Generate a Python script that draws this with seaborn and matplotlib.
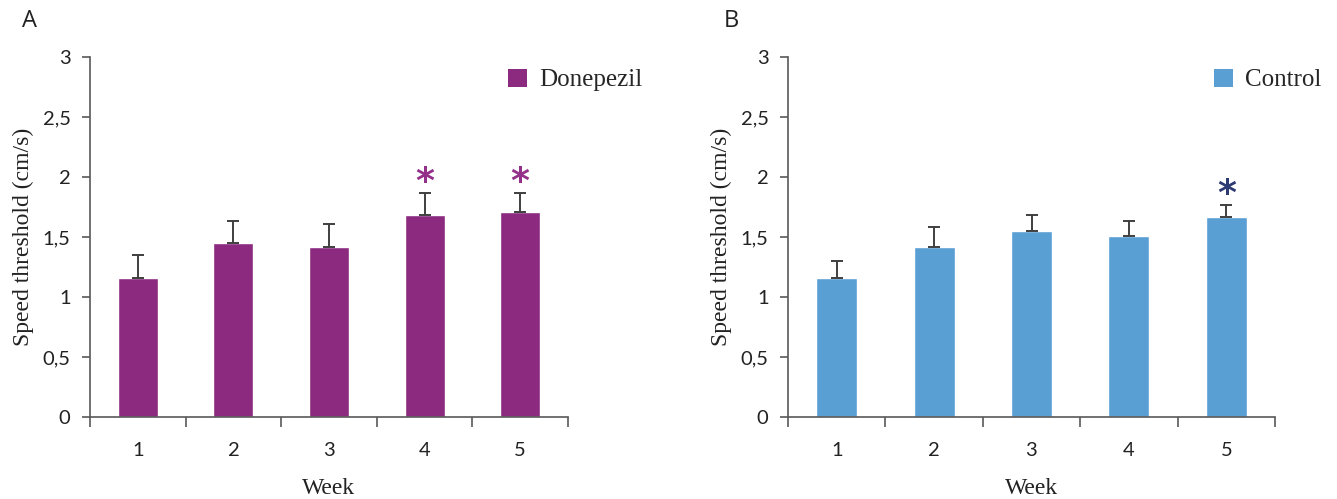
import numpy as np
import pandas as pd
import matplotlib
matplotlib.use("Agg")
import matplotlib.pyplot as plt
import seaborn as sns
from matplotlib.patches import Patch

# ---------------- data ----------------
weeks = ["1", "2", "3", "4", "5"]
donepezil_mean = [1.16, 1.45, 1.42, 1.68, 1.71]
donepezil_sem = [0.19, 0.18, 0.19, 0.19, 0.16]
donepezil_sig = [False, False, False, True, True]
control_mean = [1.16, 1.42, 1.55, 1.51, 1.67]
control_sem = [0.14, 0.16, 0.13, 0.12, 0.10]
control_sig = [False, False, False, False, True]
yticks = [0, 0.5, 1, 1.5, 2, 2.5, 3]
ytick_labels = ["0", "0,5", "1", "1,5", "2", "2,5", "3"]
panel_letters = ["A", "B"]
series_names = ["Donepezil", "Control"]
x_label = "Week"
y_label = "Speed threshold (cm/s)"

# ---------------- style ----------------
sns.set_theme(style="ticks")
plt.rcParams["font.family"] = ["Lato", "DejaVu Sans"]
SERIF = "Liberation Serif"
SPINE = "#595959"
ERR = "#3f3f3f"

panels = [
    dict(mean=donepezil_mean, sem=donepezil_sem, sig=donepezil_sig,
         name=series_names[0], color="#8B2A7E", star="#93308A",
         rect=[90 / 1337, 82 / 499, 478 / 1337, 360 / 499],
         letter=panel_letters[0], letter_x=22 / 1337),
    dict(mean=control_mean, sem=control_sem, sig=control_sig,
         name=series_names[1], color="#5A9FD4", star="#2E3A72",
         rect=[788 / 1337, 82 / 499, 487 / 1337, 360 / 499],
         letter=panel_letters[1], letter_x=724 / 1337),
]

fig = plt.figure(figsize=(13.37, 4.99), dpi=100)
fig.patch.set_facecolor("white")

for p in panels:
    ax = fig.add_axes(p["rect"])
    ax.set_facecolor("white")
    df = pd.DataFrame({"week": weeks, "value": p["mean"]})
    sns.barplot(data=df, x="week", y="value", color=p["color"], saturation=1,
                width=0.42, errorbar=None, ax=ax, zorder=2)
    xpos = np.arange(len(weeks))
    ax.errorbar(xpos, p["mean"], yerr=[np.zeros(len(weeks)), p["sem"]],
                fmt="none", ecolor=ERR, elinewidth=1.4, capsize=4.5,
                capthick=1.4, zorder=3)
    for xi, m, s, sig in zip(xpos, p["mean"], p["sem"], p["sig"]):
        if sig:
            ax.text(xi, m + s + 0.085, "*", ha="center", va="center",
                    fontsize=26, fontweight="bold", color=p["star"],
                    family="DejaVu Sans")

    ax.set_xlim(-0.5, len(weeks) - 0.5)
    ax.set_ylim(0, 3)
    ax.set_yticks(yticks)
    ax.set_yticklabels(ytick_labels)
    ax.set_xticks(xpos)
    ax.set_xticklabels(weeks)
    ax.set_xticks(np.arange(-0.5, len(weeks), 1.0), minor=True)
    ax.tick_params(axis="x", which="major", length=0, pad=18, labelsize=14.5,
                   labelcolor="#222222")
    ax.tick_params(axis="x", which="minor", length=7, width=1.2,
                   color=SPINE, direction="out")
    ax.tick_params(axis="y", which="major", length=6, width=1.2, color=SPINE,
                   direction="out", pad=8, labelsize=14.5, labelcolor="#222222")
    for side in ["top", "right"]:
        ax.spines[side].set_visible(False)
    for side in ["left", "bottom"]:
        ax.spines[side].set_color(SPINE)
        ax.spines[side].set_linewidth(1.2)

    ax.set_xlabel(x_label, family=SERIF, fontsize=17, labelpad=14, color="#222222")
    ax.set_ylabel(y_label, family=SERIF, fontsize=17, labelpad=6, color="#222222")

    handle = Patch(facecolor=p["color"], edgecolor="none", label=p["name"])
    ax.legend(handles=[handle], loc="center left", bbox_to_anchor=(0.875, 0.936),
              frameon=False, prop={"family": SERIF, "size": 18},
              handlelength=0.75, handleheight=0.75, handletextpad=0.5,
              borderpad=0, borderaxespad=0)

    fig.text(p["letter_x"], 1 - 21 / 499, p["letter"], ha="left", va="center",
             fontsize=17, family="Open Sans", color="#222222")

fig.savefig("out.png", dpi=100, facecolor="white")
